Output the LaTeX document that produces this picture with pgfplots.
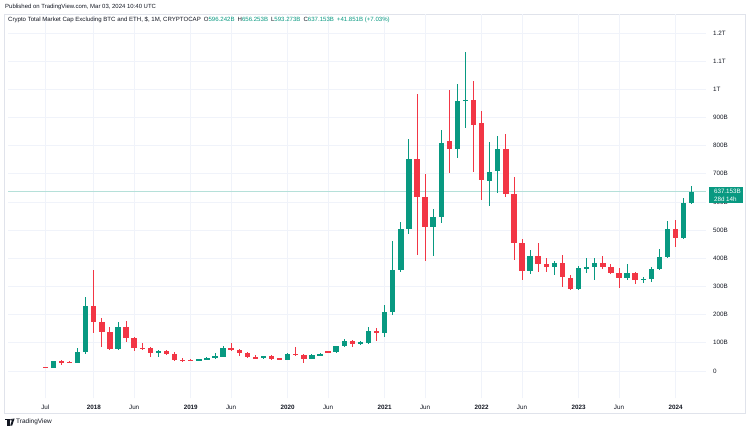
\documentclass[border=0pt]{standalone}
\usepackage{pgfplots}
\pgfplotsset{compat=1.18}
\usepackage{pgfplotstable}
\usepackage{fontspec}
\setmainfont{Liberation Sans}
\definecolor{upc}{RGB}{8,153,129}
\definecolor{dnc}{RGB}{242,54,69}
\definecolor{txt}{RGB}{19,23,34}
\definecolor{gridc}{RGB}{240,243,250}
\definecolor{framec}{RGB}{224,227,235}

% month index: 0 = Jul 2017 ... 80 = Mar 2024 ; values in billions USD
\pgfplotstableread{
i O H L C
1 12 37 11 35
4 30 80 29 66
5 66 262 62 232
9 78 173 75 155
14 65 73 49 70
19 36 43 34 41
20 41 48 38 47
21 46 63 44 53
22 51 89 50 80
27 45 55 42 52
30 40 65 38 60
33 44 59 41 56
34 56 64 52 61
36 67 90 65 88
37 89 112 86 105
39 97 106 92 103
40 99 157 97 141
42 134 236 120 209
43 209 463 200 358
44 358 530 352 504
45 504 822 486 752
48 512 574 409 546
49 546 856 524 811
51 788 1018 757 960
52 960 1134 864 963
55 675 814 587 708
56 710 835 631 789
60 356 430 343 408
63 368 392 340 384
66 291 374 288 365
67 363 400 347 370
68 370 400 323 382
72 330 379 322 347
74 323 333 311 328
75 328 370 317 361
76 361 432 358 406
77 406 532 400 503
79 473 613 469 596
80 596.242 656.253 593.273 637.153
}\uptab

\pgfplotstableread{
i O H L C
0 13 15 10 12
2 36 38 21 30
3 31 34 27 30
6 232 358 134 173
7 173 189 84 140
8 140 155 75 77
10 155 178 104 116
11 116 120 72 83
12 83 100 75 80
13 80 84 49 65
15 70 74 58 60
16 60 66 36 39
17 39 45 33 38
18 40 42 34 36
23 80 100 70 75
24 75 78 53 63
25 63 67 47 49
26 50 57 41 44
28 53 57 40 44
29 45 46 38 40
31 61 84 52 57
32 57 62 27 44
35 69 72 63 67
38 105 110 86 97
41 142 153 108 135
46 752 984 412 619
47 617 698 390 512
50 817 998 702 787
53 962 1029 707 873
54 879 924 607 678
57 789 840 619 628
58 628 690 394 453
59 453 470 323 356
61 408 455 353 381
62 380 400 353 370
64 384 412 297 333
65 331 340 288 291
69 382 408 361 370
70 370 380 344 349
71 349 365 294 330
73 347 352 309 323
78 503 536 439 473
}\dntab

\pgfplotsset{
  candle/.style 2 args={draw=none, mark=none, mark size=0pt, forget plot,
    mark options={draw=none, fill=none},
    error bars/.cd, y dir=both, y explicit, error mark=none,
    error bar style={line width=#1, draw=#2}},
}

\begin{document}
\begin{tikzpicture}[x=1bp,y=1bp]
\useasboundingbox (0,0) rectangle (750,431);
\fill[white] (0,0) rectangle (750,431);
\draw[framec, line width=0.8bp] (4.5,18) rectangle (745.5,417);

\begin{axis}[
  at={(8bp,33bp)}, anchor=south west,
  scale only axis, width=698bp, height=384bp,
  xmin=-4.616, xmax=81.77, ymin=-95.85, ymax=1267.35,
  axis line style={draw=none},
  major tick length=0pt,
  clip=false,
  xtick={0,6,11,18,23,30,35,42,47,54,59,66,71,78},
  xticklabels={Jul,\textbf{2018},Jun,\textbf{2019},Jun,\textbf{2020},Jun,\textbf{2021},Jun,\textbf{2022},Jun,\textbf{2023},Jun,\textbf{2024}},
  ytick={0,100,200,300,400,500,600,700,800,900,1000,1100,1200},
  yticklabels={0,100B,200B,300B,400B,500B,600B,700B,800B,900B,1T,1.1T,1.2T},
  yticklabel pos=right,
  grid=major,
  major grid style={draw=gridc, line width=0.8bp},
  xticklabel style={font=\fontsize{6.3}{7.5}\selectfont, text=txt, anchor=center, yshift=-9bp, inner sep=0pt},
  yticklabel style={font=\fontsize{6.3}{7.5}\selectfont, text=txt, anchor=west, xshift=7bp, inner sep=0pt},
]
% last price line
\addplot[upc!30, line width=0.6bp, forget plot] coordinates {(-4.616,637.153) (81.77,637.153)};

% wicks
\addplot[candle={0.9bp}{upc}]
  table[x=i, y expr={(\thisrow{H}+\thisrow{L})/2}, y error expr={(\thisrow{H}-\thisrow{L})/2}] {\uptab};
\addplot[candle={0.9bp}{dnc}]
  table[x=i, y expr={(\thisrow{H}+\thisrow{L})/2}, y error expr={(\thisrow{H}-\thisrow{L})/2}] {\dntab};

% bodies
\addplot[candle={5.4bp}{upc}]
  table[x=i, y expr={(\thisrow{O}+\thisrow{C})/2}, y error expr={max(abs(\thisrow{C}-\thisrow{O})/2,1.8)}] {\uptab};
\addplot[candle={5.4bp}{dnc}]
  table[x=i, y expr={(\thisrow{O}+\thisrow{C})/2}, y error expr={max(abs(\thisrow{C}-\thisrow{O})/2,1.8)}] {\dntab};

% last price label
\node[anchor=north west, fill=upc, text=white, inner sep=0pt, minimum width=34bp, minimum height=16bp,
  font=\fontsize{6.3}{7.3}\selectfont, align=left]
  at (axis cs:82.14,653) {\hspace*{2.5bp}637.153B\\\hspace*{2.5bp}28d 14h};
\end{axis}

% header
\node[anchor=west, inner sep=0pt, text=txt, font=\fontsize{6}{7}\selectfont] at (5,424) {Published on TradingView.com, Mar 03, 2024 10:40 UTC};
\node[anchor=west, inner sep=0pt, text=txt, font=\fontsize{6.1}{7}\selectfont] at (8,411)
  {Crypto Total Market Cap Excluding BTC and ETH, \$, 1M, CRYPTOCAP\enspace O\textcolor{upc}{596.242B}\enspace H\textcolor{upc}{656.253B}\enspace L\textcolor{upc}{593.273B}\enspace C\textcolor{upc}{637.153B}\enspace\textcolor{upc}{+41.851B (+7.03\%)}};

% TradingView logo
\fill[txt] (5,12.5) rectangle (9.6,10.6);
\fill[txt] (7.4,10.6) rectangle (9.6,5.5);
\fill[txt] (11.1,11.3) circle (1.05);
\fill[txt] (10.2,5.5) -- (12.6,12.5) -- (14.6,12.5) -- (12.2,5.5) -- cycle;
\node[anchor=west, inner sep=0pt, text=txt, font=\fontsize{6.5}{7.5}\selectfont] at (16,9) {TradingView};
\end{tikzpicture}
\end{document}
